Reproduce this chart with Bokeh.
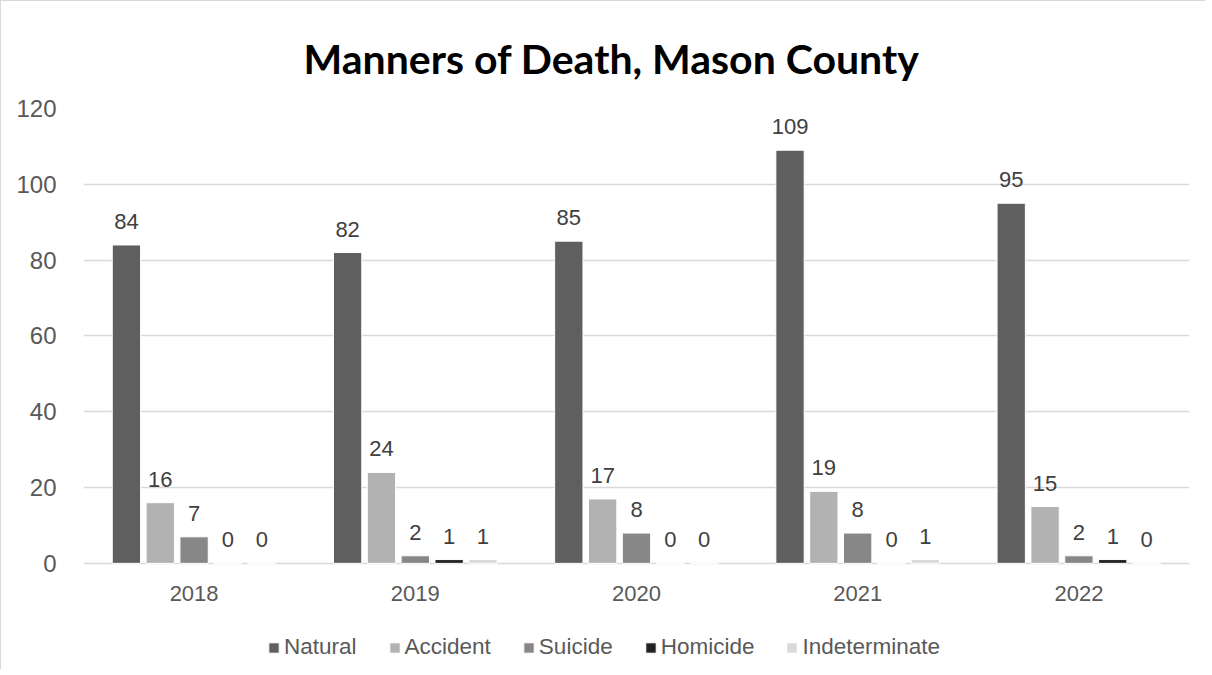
from bokeh.plotting import figure
from bokeh.models import FactorRange, ColumnDataSource, LabelSet, Legend, LegendItem, Range1d, FixedTicker
from bokeh.core.properties import value
from bokeh.transform import dodge
from bokeh.embed import file_html
from bokeh.resources import INLINE

years = ["2018", "2019", "2020", "2021", "2022"]
series_names = ["Natural", "Accident", "Suicide", "Homicide", "Indeterminate"]
natural = [84, 82, 85, 109, 95]
accident = [16, 24, 17, 19, 15]
suicide = [7, 2, 8, 8, 2]
homicide = [0, 1, 0, 0, 1]
indeterminate = [0, 1, 0, 1, 0]
y_ticks = [0, 20, 40, 60, 80, 100, 120]

colors = ["#5f5f5f", "#b2b2b2", "#878787", "#222222", "#d9d9d9"]
offsets = [-0.306, -0.153, 0.0, 0.153, 0.306]
values = [natural, accident, suicide, homicide, indeterminate]

FONT = "Liberation Sans"
TXT = "#595959"

# frame extends below the value axis to hold the category labels and the legend
p = figure(x_range=FactorRange(factors=years, range_padding=0),
           y_range=Range1d(-28, 120),
           frame_width=1106, frame_height=561, output_backend="svg", toolbar_location=None,
           min_border_left=82, min_border_right=16, min_border_top=107, min_border_bottom=0,
           styles={"border-top": "1px solid #d9d9d9", "border-left": "1px solid #d9d9d9"})

p.title.text = "Manners of Death, Mason County"
p.title.align = "left"
p.title.offset = 220
p.title.text_font = "Lato"
p.title.text_font_style = "bold"
p.title.text_font_size = "41px"
p.title.text_color = "#000000"
p.title.standoff = 52

p.outline_line_color = None
p.xgrid.grid_line_color = None
p.ygrid.grid_line_color = "#d9d9d9"
p.ygrid.grid_line_width = 1.5
p.yaxis.ticker = FixedTicker(ticks=y_ticks)
p.yaxis.axis_line_color = None
p.yaxis.major_tick_line_color = None
p.yaxis.minor_tick_line_color = None
p.yaxis.major_label_standoff = 21
p.yaxis.major_label_text_font = FONT
p.yaxis.major_label_text_font_size = "24px"
p.yaxis.major_label_text_color = TXT
p.xaxis.fixed_location = 0
p.xaxis.axis_line_color = None
p.xaxis.major_tick_line_color = None
p.xaxis.major_label_standoff = 17
p.xaxis.major_label_text_font = FONT
p.xaxis.major_label_text_font_size = "22px"
p.xaxis.major_label_text_color = TXT

data = {"year": years}
for name, vals in zip(series_names, values):
    data[name] = vals
src = ColumnDataSource(data)

items = []
for name, col, off in zip(series_names, colors, offsets):
    r = p.vbar(x=dodge("year", off, range=p.x_range), top=name, width=0.128, source=src,
               fill_color=col, line_color="white", line_width=1)
    items.append(LegendItem(label=name, renderers=[r]))
    lbl = LabelSet(x=dodge("year", off, range=p.x_range), y=name, text=name, source=src,
                   text_align="center", text_baseline="bottom", y_offset=16,
                   text_font=value(FONT), text_font_size=value("22px"), text_color="#404040")
    p.add_layout(lbl)

legend = Legend(items=items, orientation="horizontal", location=(184, 9),
                label_text_font=FONT, label_text_font_size="22.5px", label_text_color=TXT,
                glyph_width=13, glyph_height=13, label_standoff=4, spacing=31,
                border_line_color=None, background_fill_alpha=0, margin=0, padding=4)
p.add_layout(legend)

open("out.html", "w").write(file_html(p, INLINE))
